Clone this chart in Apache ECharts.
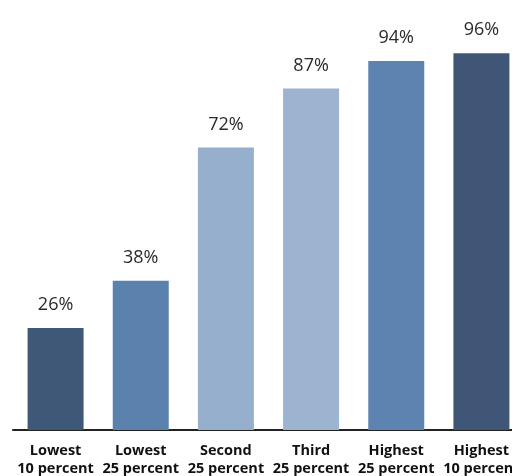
<!DOCTYPE html>
<html>
<head>
<meta charset="utf-8">
<script src="https://cdn.jsdelivr.net/npm/echarts@6/dist/echarts.min.js"></script>
<style>
  html, body { margin: 0; padding: 0; background: #ffffff; }
  #chart { width: 512px; height: 476px; }
</style>
</head>
<body>
<div id="chart"></div>
<script>
// Share by income group (percent)
const categories = [
  'Lowest\n10 percent',
  'Lowest\n25 percent',
  'Second\n25 percent',
  'Third\n25 percent',
  'Highest\n25 percent',
  'Highest\n10 percent'
];
const values = [26, 38, 72, 87, 94, 96];
const barColors = ['#3f5878', '#5b82ad', '#95afcc', '#9cb4cf', '#5d84b0', '#3f5676'];

const chart = echarts.init(document.getElementById('chart'), null, { renderer: 'canvas' });

chart.setOption({
  backgroundColor: '#ffffff',
  animation: false,
  // plot area runs a little past the right edge, so the last label is cut off
  grid: {
    left: 13, width: 511, top: 37.5, height: 392.5,
    containLabel: false,
    outerBoundsMode: 'none'
  },
  xAxis: {
    type: 'category',
    data: categories,
    axisLine: { show: true, lineStyle: { color: '#222222', width: 2 } },
    axisTick: { show: false },
    axisLabel: {
      interval: 0,
      margin: 12,
      color: '#111111',
      fontFamily: 'Open Sans',
      fontWeight: 'bold',
      fontSize: 14.5,
      lineHeight: 18,
      hideOverlap: false
    }
  },
  yAxis: {
    type: 'value',
    min: 0,
    max: 100,
    show: false,
    splitLine: { show: false }
  },
  series: [{
    type: 'bar',
    barWidth: 56,
    data: values.map((v, i) => ({ value: v, itemStyle: { color: barColors[i] } })),
    label: {
      show: true,
      position: 'top',
      distance: 14,
      formatter: '{c}%',
      color: '#2a2a2a',
      fontFamily: 'Open Sans',
      fontSize: 18
    }
  }]
});
</script>
</body>
</html>
